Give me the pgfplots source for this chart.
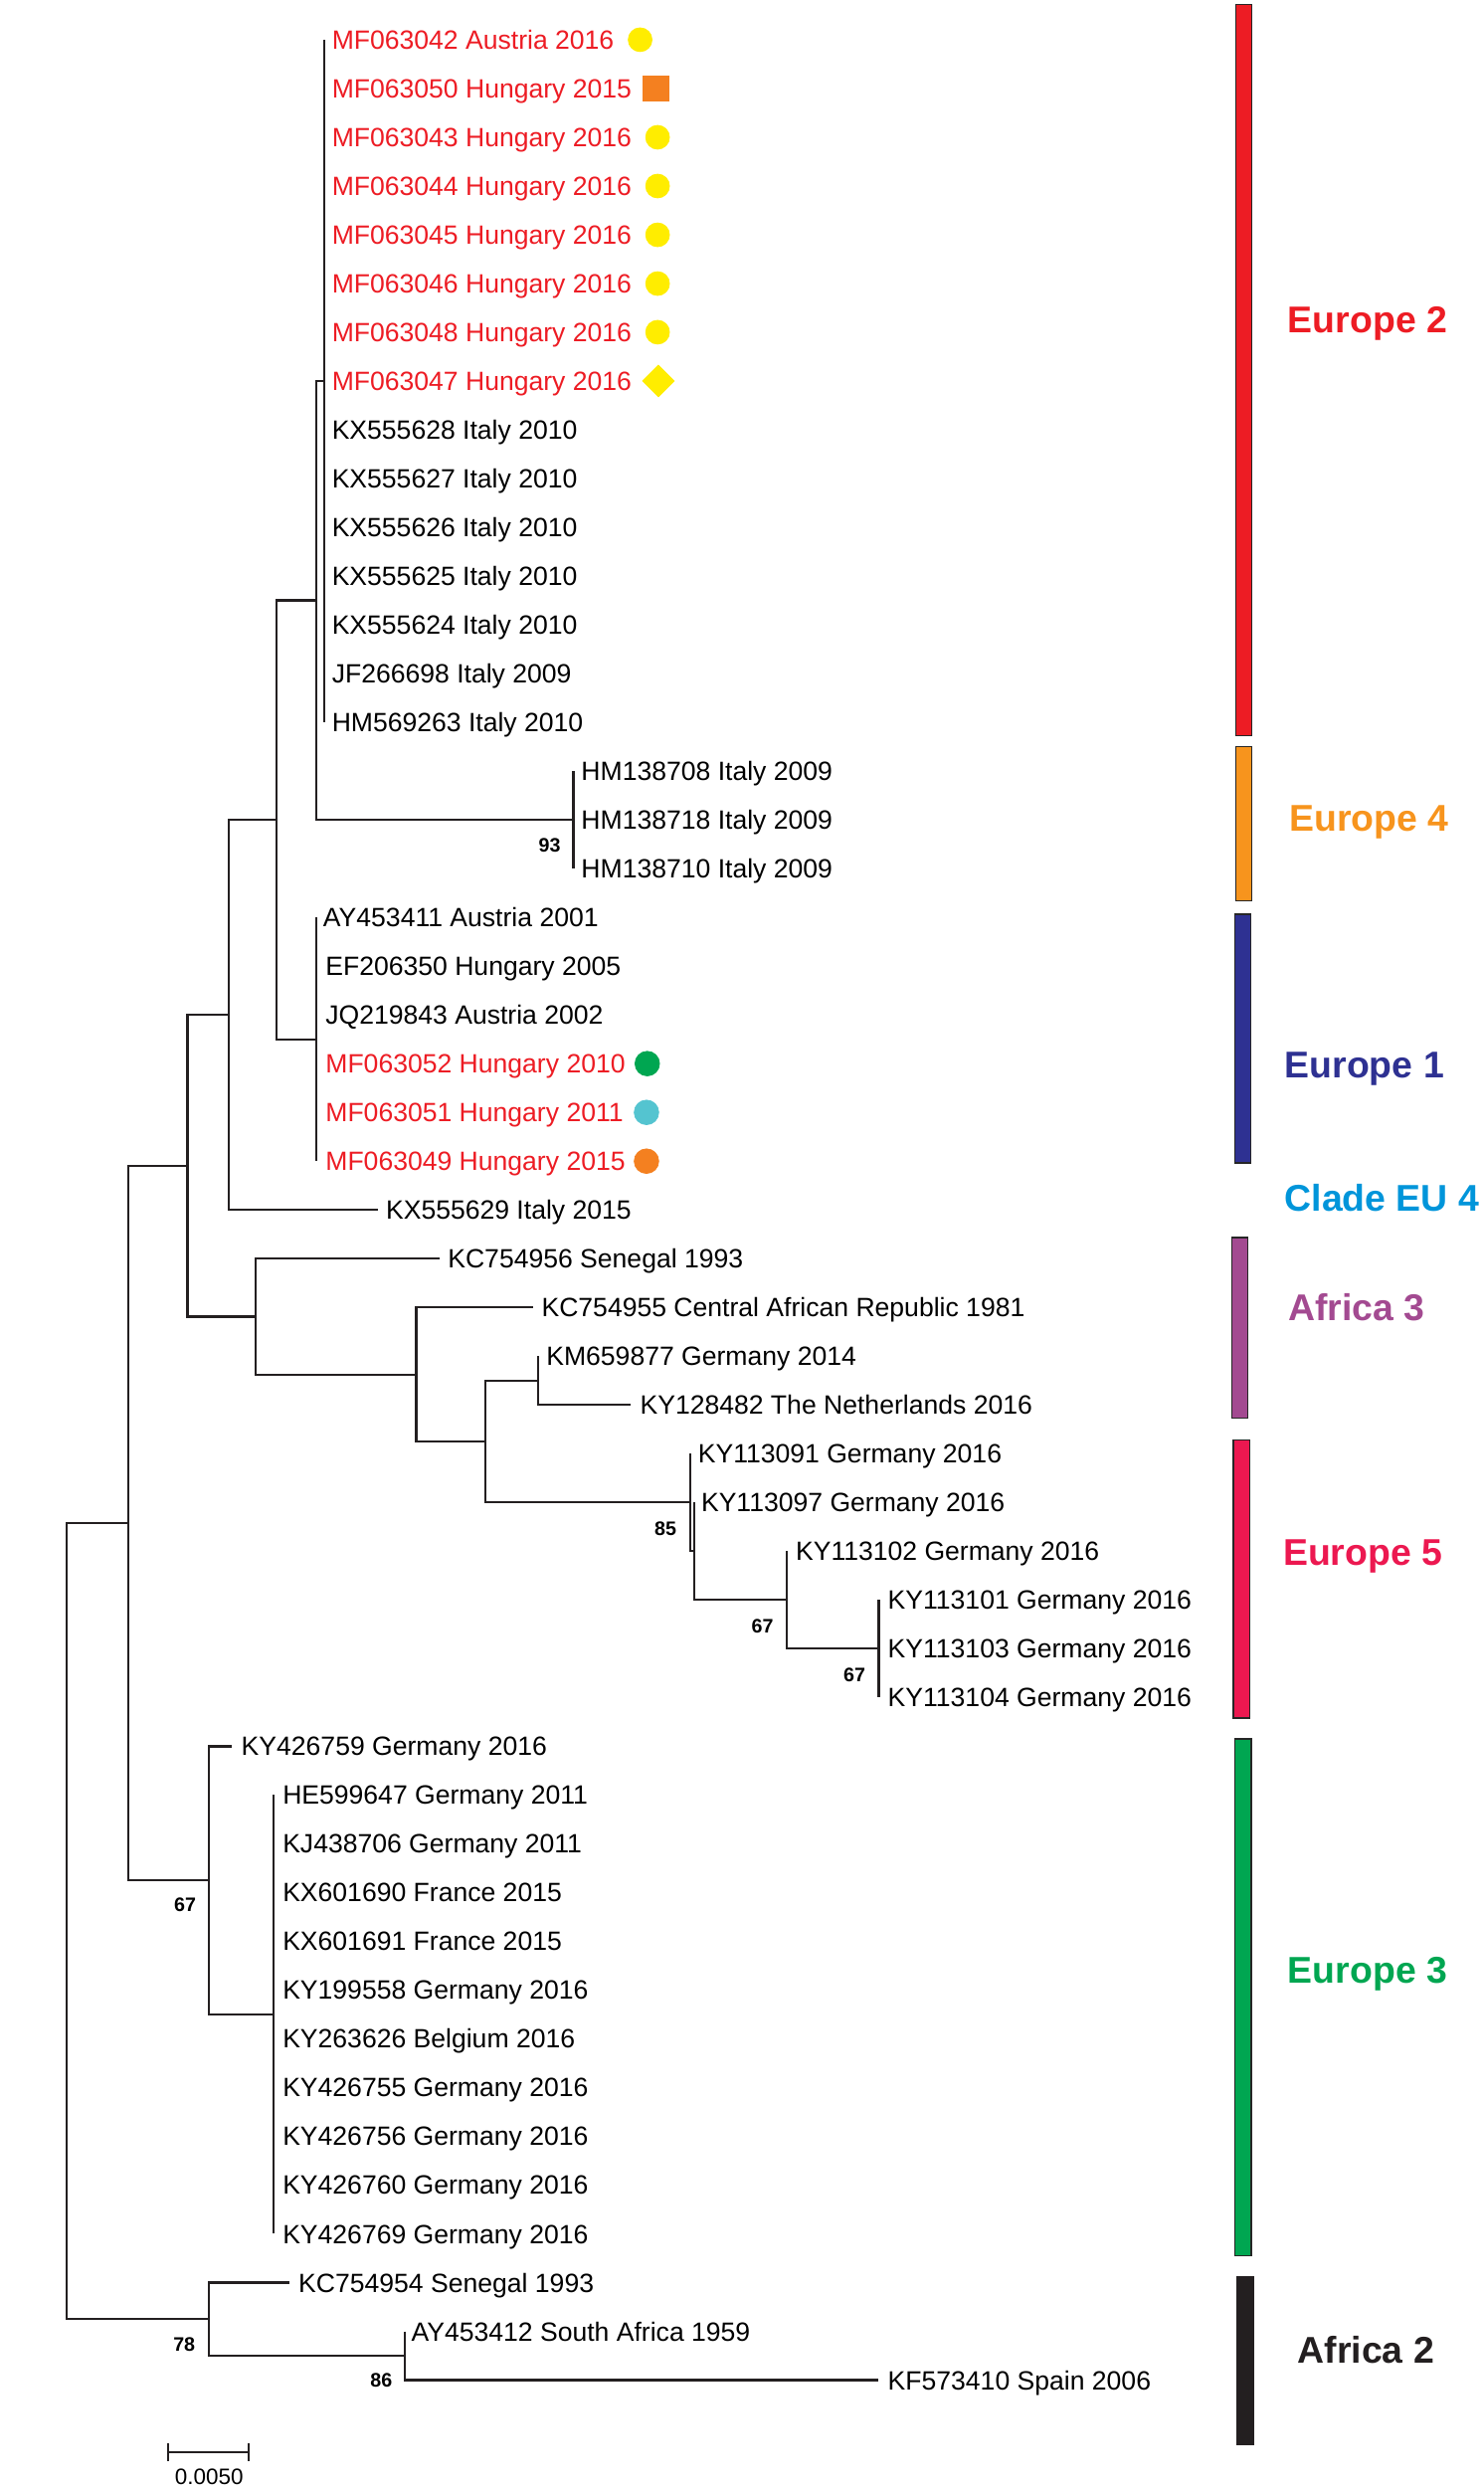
\documentclass[border=0pt]{standalone}
\usepackage{pgfplots}
\pgfplotsset{compat=1.18}
\usepackage{fontspec}
\setmainfont{Liberation Sans}
\definecolor{cRed}{RGB}{237,28,36}
\definecolor{cOrange}{RGB}{247,148,29}
\definecolor{cNavy}{RGB}{46,49,146}
\definecolor{cCyanT}{RGB}{0,149,218}
\definecolor{cPurple}{RGB}{163,74,145}
\definecolor{cCrimson}{RGB}{236,24,80}
\definecolor{cGreen}{RGB}{0,166,81}
\definecolor{cBlack}{RGB}{35,31,32}
\definecolor{mYellow}{RGB}{255,237,0}
\definecolor{mOrange}{RGB}{244,128,32}
\definecolor{mGreen}{RGB}{0,166,81}
\definecolor{mCyan}{RGB}{84,196,208}
\newcommand{\tipfont}{\fontsize{14.2}{16}\selectfont}
\newcommand{\tip}[4][black]{\node[anchor=base west,inner sep=0pt,outer sep=0pt,text=#1,font=\tipfont,yshift=-1.79mm] at (axis cs:#2,#3) {#4};}
\newcommand{\boot}[3]{\node[anchor=center,inner sep=0pt,font=\bfseries\fontsize{10.5}{12}\selectfont] at (axis cs:#1,#2) {#3};}
\newcommand{\clade}[4]{\node[anchor=base,inner sep=0pt,text=#1,font=\bfseries\fontsize{20}{24}\selectfont,yshift=-2.52mm] at (axis cs:#2,#3) {#4};}
\begin{document}
\begin{tikzpicture}
\begin{axis}[
  width=280.2mm, height=470.4mm, scale only axis,
  xmin=0, xmax=934, ymin=0, ymax=1568, y dir=reverse,
  hide axis, clip=false, unbounded coords=jump,
]
% ---- invisible frame so that the picture keeps the full extent ----
\path (rel axis cs:0,0) rectangle (rel axis cs:1,1);
\addplot[draw=none, mark=none, forget plot] coordinates {(0,0) (934,1568)};
% ---- tree branches ----
\addplot[cBlack, line width=1.2pt, mark=none] coordinates {
 (81,958.7) (42,958.7) (42,1459.8) (131.5,1459.8) (nan,nan)
 (118,733.8) (81,733.8) (81,1183.6) (131.5,1183.6) (nan,nan)
 (144,638.8) (118,638.8) (118,828.8) (161,828.8) (nan,nan)
 (174,516.0) (144,516.0) (144,761.6) (238,761.6) (nan,nan)
 (199,377.9) (174,377.9) (174,654.2) (199,654.2) (nan,nan)
 (204,239.8) (199,239.8) (199,516.0) (361,516.0) (nan,nan)
 (204,25) (204,454.7) (nan,nan)
 (361,485.4) (361,546.7) (nan,nan)
 (199,577.4) (199,730.9) (nan,nan)
 (277,792.3) (161,792.3) (161,865.2) (262,865.2) (nan,nan)
 (335.6,823.0) (262,823.0) (262,907.3) (305.6,907.3) (nan,nan)
 (338.6,869.0) (305.6,869.0) (305.6,945.7) (434.5,945.7) (nan,nan)
 (338.6,853.6) (338.6,884.3) (397,884.3) (nan,nan)
 (434.5,915.0) (434.5,976.4) (437,976.4) (nan,nan)
 (437,945.7) (437,1007.1) (495.4,1007.1) (nan,nan)
 (495.4,976.4) (495.4,1037.8) (553.3,1037.8) (nan,nan)
 (553.3,1007.1) (553.3,1068.5) (nan,nan)
 (146,1099.2) (131.5,1099.2) (131.5,1268.0) (172,1268.0) (nan,nan)
 (172,1129.9) (172,1406.1) (nan,nan)
 (182,1436.8) (131.5,1436.8) (131.5,1482.9) (255,1482.9) (nan,nan)
 (255,1467.5) (255,1498.2) (553,1498.2)
};
% ---- scale bar ----
\addplot[cBlack, line width=1.0pt, mark=none] coordinates {
 (105.7,1538) (105.7,1549) (nan,nan)
 (105.7,1543.5) (156.6,1543.5) (nan,nan)
 (156.6,1538) (156.6,1549)
};
\node[anchor=base,inner sep=0pt,font=\fontsize{12}{14}\selectfont,yshift=-1.5mm] at (axis cs:131.7,1559) {0.0050};
% ---- clade bars ----
\addplot[fill=cRed, draw=black!85, line width=0.7pt] coordinates {(778,3) (788,3) (788,463) (778,463)} --cycle;
\addplot[fill=cOrange, draw=black!85, line width=0.7pt] coordinates {(778,470) (788,470) (788,567) (778,567)} --cycle;
\addplot[fill=cNavy, draw=black!85, line width=0.7pt] coordinates {(777.5,575.5) (787.5,575.5) (787.5,732) (777.5,732)} --cycle;
\addplot[fill=cPurple, draw=black!85, line width=0.7pt] coordinates {(775.5,779) (785.5,779) (785.5,892.5) (775.5,892.5)} --cycle;
\addplot[fill=cCrimson, draw=black!85, line width=0.7pt] coordinates {(776.5,906.5) (787,906.5) (787,1081.5) (776.5,1081.5)} --cycle;
\addplot[fill=cGreen, draw=black!85, line width=0.7pt] coordinates {(777.5,1094.5) (787.8,1094.5) (787.8,1420) (777.5,1420)} --cycle;
\addplot[fill=cBlack, draw=cBlack, line width=0.7pt] coordinates {(779,1433) (789.5,1433) (789.5,1539) (779,1539)} --cycle;
% ---- clade labels ----
\clade{cRed}{861}{201}{Europe 2}
\clade{cOrange}{862}{515}{Europe 4}
\clade{cNavy}{859}{670}{Europe 1}
\clade{cCyanT}{870}{754}{Clade EU 4}
\clade{cPurple}{854}{823}{Africa 3}
\clade{cCrimson}{858}{977}{Europe 5}
\clade{cGreen}{861}{1240}{Europe 3}
\clade{cBlack}{860}{1479}{Africa 2}
% ---- markers ----
\addplot[only marks, color=mYellow, mark=*, mark size=6.4pt] coordinates {(403,25) (414,86.4) (414,117.1) (414,147.8) (414,178.5) (414,209.1)};
\addplot[only marks, color=mOrange, mark=square*, mark size=6.9pt] coordinates {(413,55.7)};
\addplot[only marks, color=mYellow, mark=square*, mark size=6.0pt, mark options={rotate=45}] coordinates {(414.5,239.8)};
\addplot[only marks, color=mGreen, mark=*, mark size=6.6pt] coordinates {(407.5,669.5)};
\addplot[only marks, color=mCyan, mark=*, mark size=6.6pt] coordinates {(407,700.2)};
\addplot[only marks, color=mOrange, mark=*, mark size=6.6pt] coordinates {(407,730.9)};
% ---- bootstrap values ----
\boot{346}{532}{93}
\boot{419}{962}{85}
\boot{480}{1023.5}{67}
\boot{538}{1054.5}{67}
\boot{116.5}{1199}{67}
\boot{116}{1475.6}{78}
\boot{240}{1498}{86}
% ---- tip labels ----
\tip[cRed]{209}{25.0}{MF063042 Austria 2016}
\tip[cRed]{209}{55.7}{MF063050 Hungary 2015}
\tip[cRed]{209}{86.4}{MF063043 Hungary 2016}
\tip[cRed]{209}{117.1}{MF063044 Hungary 2016}
\tip[cRed]{209}{147.8}{MF063045 Hungary 2016}
\tip[cRed]{209}{178.5}{MF063046 Hungary 2016}
\tip[cRed]{209}{209.1}{MF063048 Hungary 2016}
\tip[cRed]{209}{239.8}{MF063047 Hungary 2016}
\tip{209}{270.5}{KX555628 Italy 2010}
\tip{209}{301.2}{KX555627 Italy 2010}
\tip{209}{331.9}{KX555626 Italy 2010}
\tip{209}{362.6}{KX555625 Italy 2010}
\tip{209}{393.3}{KX555624 Italy 2010}
\tip{209}{424.0}{JF266698 Italy 2009}
\tip{209}{454.7}{HM569263 Italy 2010}
\tip{366}{485.4}{HM138708 Italy 2009}
\tip{366}{516.0}{HM138718 Italy 2009}
\tip{366}{546.7}{HM138710 Italy 2009}
\tip{203.5}{577.4}{AY453411 Austria 2001}
\tip{205}{608.1}{EF206350 Hungary 2005}
\tip{205}{638.8}{JQ219843 Austria 2002}
\tip[cRed]{205}{669.5}{MF063052 Hungary 2010}
\tip[cRed]{205}{700.2}{MF063051 Hungary 2011}
\tip[cRed]{205}{730.9}{MF063049 Hungary 2015}
\tip{243}{761.6}{KX555629 Italy 2015}
\tip{282}{792.3}{KC754956 Senegal 1993}
\tip{341}{823.0}{KC754955 Central African Republic 1981}
\tip{344}{853.6}{KM659877 Germany 2014}
\tip{403}{884.3}{KY128482 The Netherlands 2016}
\tip{439.5}{915.0}{KY113091 Germany 2016}
\tip{441.5}{945.7}{KY113097 Germany 2016}
\tip{501}{976.4}{KY113102 Germany 2016}
\tip{559}{1007.1}{KY113101 Germany 2016}
\tip{559}{1037.8}{KY113103 Germany 2016}
\tip{559}{1068.5}{KY113104 Germany 2016}
\tip{152}{1099.2}{KY426759 Germany 2016}
\tip{178}{1129.9}{HE599647 Germany 2011}
\tip{178}{1160.6}{KJ438706 Germany 2011}
\tip{178}{1191.2}{KX601690 France 2015}
\tip{178}{1221.9}{KX601691 France 2015}
\tip{178}{1252.6}{KY199558 Germany 2016}
\tip{178}{1283.3}{KY263626 Belgium 2016}
\tip{178}{1314.0}{KY426755 Germany 2016}
\tip{178}{1344.7}{KY426756 Germany 2016}
\tip{178}{1375.4}{KY426760 Germany 2016}
\tip{178}{1406.1}{KY426769 Germany 2016}
\tip{188}{1436.8}{KC754954 Senegal 1993}
\tip{259}{1467.5}{AY453412 South Africa 1959}
\tip{559}{1498.2}{KF573410 Spain 2006}
\end{axis}
\end{tikzpicture}
\end{document}
